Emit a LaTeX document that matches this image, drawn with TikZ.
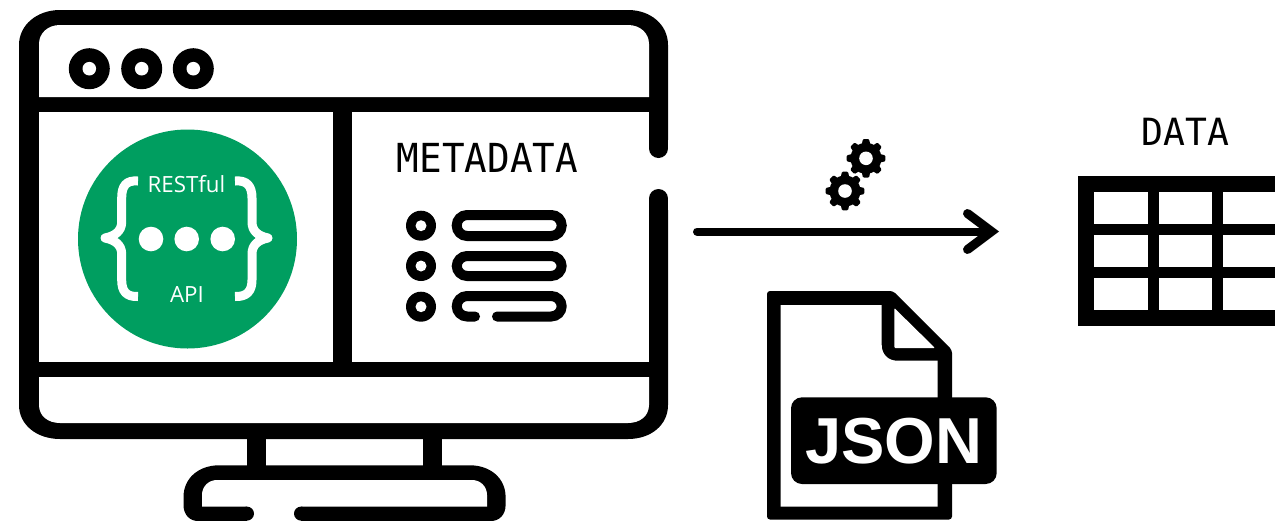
\documentclass[tikz,border=0pt]{standalone}
\usepackage{fontspec}
\setmainfont{Open Sans}
\newfontfamily\techfont{DejaVu Sans Mono}
\newfontfamily\labelfont{Liberation Sans}
\usetikzlibrary{arrows.meta}
\definecolor{apigreen}{RGB}{0,158,96}

\begin{document}
\begin{tikzpicture}[x=1pt,y=-1pt,
  blackfill/.style={fill=black,draw=none},
  whitefill/.style={fill=white,draw=none},
  pill/.style={draw=black,line width=10pt,rounded corners=10.5pt,line cap=round},
  brace/.style={draw=white,line width=9pt,line join=round},
  titletext/.style={font=\techfont,inner sep=0pt,anchor=center,transform shape}]
  \useasboundingbox (0,0) rectangle (1275,520);
  \clip (0,0) rectangle (1275,520);
  % monitor
  \fill[blackfill] (19,45) .. controls (19,25) and (37,10) .. (60,10) -- (628,10)
    .. controls (651,10) and (668,25) .. (668,45) -- (668,405)
    .. controls (668,425) and (651,439) .. (628,439) -- (60,439)
    .. controls (37,439) and (19,425) .. (19,405) -- cycle;
  \fill[whitefill] (39,44) .. controls (39,33) and (48,25) .. (60,25) -- (628,25)
    .. controls (640,25) and (649,33) .. (649,44) -- (649,97) -- (39,97) -- cycle;
  \fill[whitefill] (39,112) rectangle (333,362);
  \fill[whitefill] (352,112) rectangle (649,362);
  \fill[whitefill] (39,377) -- (649,377) -- (649,405)
    .. controls (649,416) and (640,423) .. (628,423) -- (60,423)
    .. controls (48,423) and (39,416) .. (39,405) -- cycle;
  % gap in the right wall
  \fill[whitefill] (640,140) rectangle (675,210);
  \draw[line width=19pt,line cap=round] (658.5,125) -- (658.5,148.5);
  \draw[line width=19pt,line cap=round] (658.5,198.5) -- (658.5,225);
  % window buttons
  \foreach \bx in {89.3,141.7,193.3} {
    \fill[blackfill] (\bx,68.7) circle (20.5);
    \fill[whitefill] (\bx,68.7) circle (6.8);
  }
  % stand
  \fill[blackfill] (246.5,435) rectangle (265.5,470);
  \fill[blackfill] (423,435) rectangle (442,470);
  \fill[blackfill] (183.5,505) .. controls (183.5,515) and (190,521) .. (198,521) -- (491,521)
    .. controls (499,521) and (505.6,515) .. (505.6,505) -- (505.6,497)
    .. controls (505.6,478) and (490,465.3) .. (470,465.3) -- (219,465.3)
    .. controls (199,465.3) and (183.5,478) .. (183.5,497) -- cycle;
  \fill[whitefill] (202,506.7) -- (202,495) .. controls (202,486) and (209,480) .. (217,480)
    -- (472,480) .. controls (480,480) and (487,486) .. (487,495) -- (487,506.7) -- cycle;
  \fill[whitefill] (247,505) rectangle (301,525);
  \fill[blackfill] (247,513.6) circle (7);
  \fill[blackfill] (301,513.6) circle (7);
  % api badge
  \fill[apigreen] (187.5,239) circle (109.5);
  \foreach \dx in {151,186.7,222.7}
    \fill[whitefill] (\dx,239) circle (12.3);
  \draw[brace] (138,181) .. controls (126,180) and (121.7,186) .. (121.7,198) -- (121.7,222)
    .. controls (121.7,231) and (115,236) .. (105,238)
    .. controls (115,240) and (121.7,245) .. (121.7,254) -- (121.7,280)
    .. controls (121.7,291) and (126,297) .. (138,296.5);
  \draw[brace] (235,181) .. controls (247,180) and (252,186) .. (252,198) -- (252,222)
    .. controls (252,231) and (258,236) .. (268,238)
    .. controls (258,240) and (252,245) .. (252,254) -- (252,280)
    .. controls (252,291) and (247,297) .. (235,296.5);
  \node[text=white,font=\fontsize{22.3}{26}\selectfont,inner sep=0pt] (restful) at (186.5,184) {RESTful};
  \node[text=white,font=\fontsize{22.3}{26}\selectfont,inner sep=0pt] (api) at (187,295) {API};
  % metadata list
  \node[titletext,font=\techfont\fontsize{40}{42}\selectfont,xscale=.94] (metadata) at (487.5,158) {METADATA};
  \foreach \ly in {225.7,266,306.7} {
    \fill[blackfill] (421,\ly) circle (15);
    \fill[whitefill] (421,\ly) circle (5.5);
  }
  \draw[pill] (456.7,215) rectangle (561.7,236);
  \draw[pill] (456.7,256) rectangle (561.7,276);
  \draw[pill] (475,316.5) -- (456.7,316.5) -- (456.7,296) -- (561.7,296) -- (561.7,316.5) -- (497,316.5);
  % transformation arrow
  \coordinate (arrowstart) at (697,231.5);
  \coordinate (arrowend) at (999,231.5);
  \draw[line width=8pt,line cap=round,-{Straight Barb[line cap=round,line join=miter,length=24pt,width=36pt,line width=9pt]}] (arrowstart) -- (arrowend);
  % gears
  \foreach \gx/\gy in {866/158.3,845/191} {
    \fill[blackfill] (\gx,\gy) circle (15.5);
    \foreach \ga in {0,45,...,315}
      \fill[blackfill,rounded corners=1pt,shift={(\gx,\gy)}] (\ga-17:14.5) -- (\ga-9:19.5) -- (\ga+9:19.5) -- (\ga+17:14.5) -- cycle;
    \fill[whitefill] (\gx,\gy) circle (6.8);
  }
  % json file
  \fill[blackfill,rounded corners=3pt] (767,291) -- (893,291) -- (952,350) -- (952,519.5) -- (767,519.5) -- cycle;
  \fill[whitefill] (780.7,305) -- (881.7,305) -- (881.7,345)
    .. controls (881.7,354) and (888,360.7) .. (897,360.7) -- (937.7,360.7) -- (937.7,506.7) -- (780.7,506.7) -- cycle;
  \fill[whitefill,rounded corners=1pt] (894.3,308) -- (935,348) -- (894.3,348) -- cycle;
  \fill[blackfill,rounded corners=11pt] (791,397.3) rectangle (996.7,484);
  \node[text=white,inner sep=0pt,font=\labelfont\bfseries\fontsize{65}{67}\selectfont] (json) at (893.7,441) {JSON};
  % data table
  \node[titletext,font=\techfont\fontsize{37.5}{40}\selectfont,xscale=.97] (data) at (1185.5,132) {DATA};
  \fill[blackfill] (1078,176.3) rectangle (1275,326);
  \foreach \ty/\tb in {192.3/224.3,235/267,277.7/310}
    \foreach \tx/\tr in {1094.3/1148.3,1158.7/1212.3,1223/1280}
      \fill[whitefill] (\tx,\ty) rectangle (\tr,\tb);
\end{tikzpicture}
\end{document}
